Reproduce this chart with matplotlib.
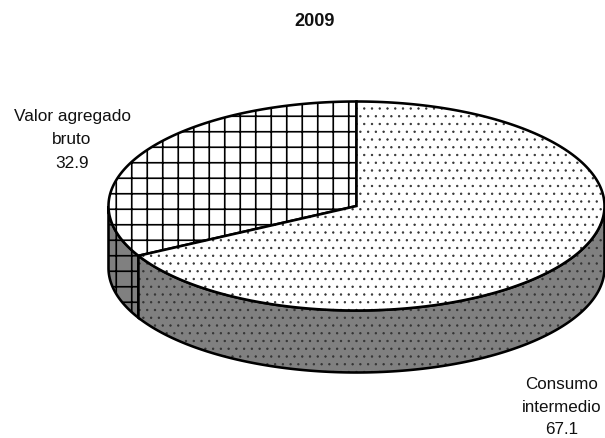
import numpy as np
import matplotlib
matplotlib.use('Agg')
import matplotlib.pyplot as plt
from matplotlib.patches import Polygon

# Data
labels = ['Valor agregado\nbruto\n32.9', 'Consumo\nintermedio\n67.1']
values = [32.9, 67.1]
title = '2009'

plt.rcParams['font.family'] = ['Liberation Sans', 'DejaVu Sans']

# pie geometry in pixels
cx, cy = 356.5, 206
rx, ry = 248, 104.5
depth = 62
dpi = 93


def arc(t0, t1, dy=0):
    # t measured counter-clockwise from the top of the pie
    t = np.radians(np.linspace(t0, t1, 200))
    return np.column_stack([cx - rx * np.sin(t), cy - ry * np.cos(t) + dy])


def draw_slice(pts, face, h, hcolor, hwidth):
    plt.rcParams['hatch.linewidth'] = hwidth
    ax.add_patch(Polygon(pts, closed=True, facecolor=face, edgecolor=hcolor, hatch=h, linewidth=0))
    ax.add_patch(Polygon(pts, closed=True, fill=False, edgecolor='black', linewidth=2))


fig = plt.figure(figsize=(605 / dpi, 438 / dpi), dpi=dpi)
ax = fig.add_axes([0, 0, 1, 1])
ax.set_xlim(0, 605)
ax.set_ylim(438, 0)
ax.axis('off')

split = 360 * values[0] / sum(values)
hatches = ['+', '..']
hcolors = ['black', '#333333']
hwidths = [1.3, 0.6]

# side wall, only the part facing the viewer
sides = [(90, split), (split, 270)]
for (t0, t1), h, c, w in zip(sides, hatches, hcolors, hwidths):
    pts = np.vstack([arc(t0, t1), arc(t0, t1, depth)[::-1]])
    draw_slice(pts, '#808080', h, c, w)

# top face
tops = [(0, split), (split, 360)]
for (t0, t1), h, c, w in zip(tops, hatches, hcolors, hwidths):
    pts = np.vstack([[[cx, cy]], arc(t0, t1)])
    draw_slice(pts, 'white', h, c, w)

ax.text(315, 21, title, ha='center', va='center', fontsize=14, fontweight='bold', color='#111111')
ax.text(72, 140, labels[0], ha='center', va='center', fontsize=13.4, linespacing=1.68, color='#111111')
ax.text(562, 407, labels[1], ha='center', va='center', fontsize=13.2, linespacing=1.62, color='#111111')

fig.savefig('out.png', dpi=dpi)
